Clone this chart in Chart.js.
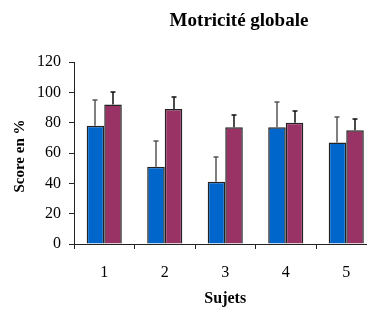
<!DOCTYPE html>
<html><head><meta charset="utf-8">
<script src="https://cdn.jsdelivr.net/npm/chart.js@4"></script>
<style>html,body{margin:0;padding:0;overflow:hidden;background:#fff;width:367px;height:309px}canvas{display:block}</style>
</head><body>
<canvas id="c" width="390" height="309"></canvas>
<script>
const categories = ['1','2','3','4','5'];
const seriesA = [78, 51, 41, 77, 67];
const seriesB = [92, 89, 77, 80, 75];
const errorsA = [17, 17, 16.5, 16.5, 16.5];
const errorsB = [8, 8, 8, 8, 7.5];
const yTicks = [0, 20, 40, 60, 80, 100, 120];
const titleText = 'Motricité globale';
const xTitle = 'Sujets';
const yTitle = 'Score en %';

const serif = "'Liberation Serif', 'Times New Roman', serif";

const errPlugin = {
  id: 'errs',
  afterDatasetsDraw(chart) {
    const ctx = chart.ctx, y = chart.scales.y;
    const sets = [[errorsA, '#555'], [errorsB, '#111']];
    sets.forEach(([errs, col], di) => {
      const meta = chart.getDatasetMeta(di);
      const vals = chart.data.datasets[di].data;
      meta.data.forEach((bar, i) => {
        const x = Math.round(bar.x);
        const y0 = y.getPixelForValue(vals[i]);
        const y1 = Math.round(y.getPixelForValue(vals[i] + errs[i]));
        ctx.save();
        ctx.strokeStyle = col; ctx.lineWidth = 1.5;
        ctx.beginPath();
        ctx.moveTo(x, y0); ctx.lineTo(x, y1);
        ctx.moveTo(x - 2.5, y1); ctx.lineTo(x + 2.5, y1);
        ctx.stroke();
        ctx.restore();
      });
    });
  }
};

const textPlugin = {
  id: 'texts',
  afterDraw(chart) {
    const ctx = chart.ctx, a = chart.chartArea;
    ctx.save();
    ctx.fillStyle = '#000';
    ctx.textAlign = 'center'; ctx.textBaseline = 'middle';
    ctx.font = 'bold 19px ' + serif;
    ctx.fillText(titleText, 239, 21);
    ctx.font = 'bold 16px ' + serif;
    ctx.fillText(xTitle, (a.left + a.right) / 2, 299);
    ctx.translate(20, 156);
    ctx.rotate(-Math.PI / 2);
    ctx.font = 'bold 15px ' + serif;
    ctx.fillText(yTitle, 0, 0);
    ctx.restore();
  }
};

new Chart(document.getElementById('c'), {
  type: 'bar',
  data: {
    labels: categories,
    datasets: [
      { data: seriesA, backgroundColor: '#0066CC', borderColor: '#222', borderWidth: 1.5 },
      { data: seriesB, backgroundColor: '#993366', borderColor: '#222', borderWidth: 1.5 }
    ]
  },
  options: {
    responsive: false,
    animation: false,
    devicePixelRatio: 1,
    layout: { padding: { top: 62, right: 13.5, left: 0, bottom: 0 } },
    plugins: { legend: { display: false }, title: { display: false }, tooltip: { enabled: false } },
    datasets: { bar: { categoryPercentage: 0.58, barPercentage: 1 } },
    scales: {
      x: {
        offset: true,
        grid: { offset: true, drawOnChartArea: false, tickLength: 5, color: '#222', tickColor: '#222' },
        border: { color: '#222', width: 1 },
        ticks: { color: '#000', font: { family: serif, size: 16 }, padding: 14, maxRotation: 0 },
        afterFit(s) { s.height = 65; }
      },
      y: {
        min: 0, max: 120,
        afterBuildTicks(s) { s.ticks = yTicks.map(v => ({ value: v })); },
        grid: { drawOnChartArea: false, tickLength: 5, color: '#222', tickColor: '#222' },
        border: { color: '#222', width: 1 },
        ticks: { color: '#000', font: { family: serif, size: 16 }, padding: 8 },
        afterFit(s) { s.width = 74; }
      }
    }
  },
  plugins: [errPlugin, textPlugin]
});
</script>
</body></html>
